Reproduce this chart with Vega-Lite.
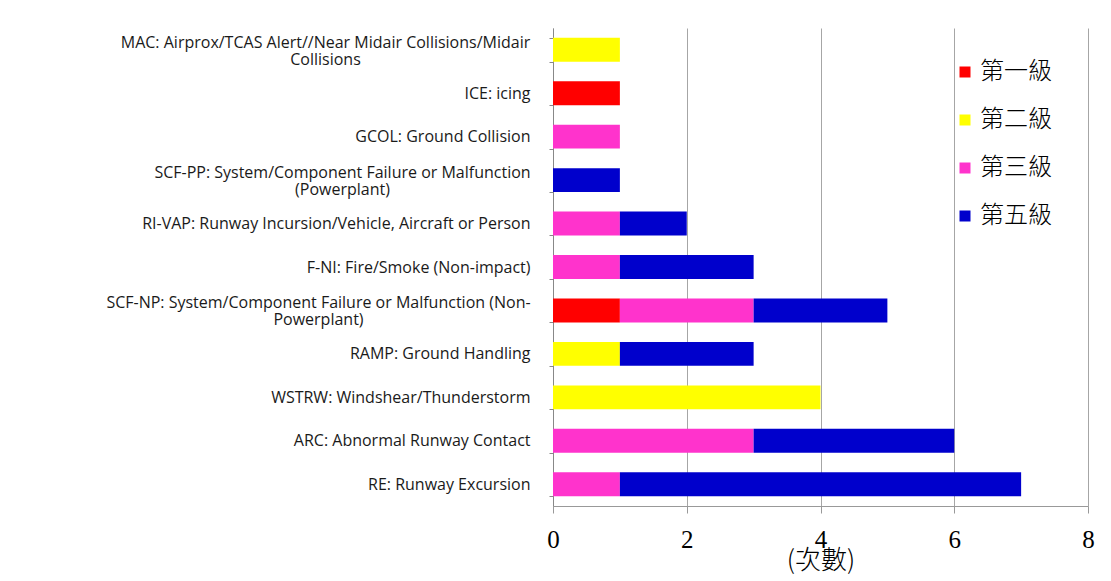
{
  "$schema": "https://vega.github.io/schema/vega-lite/v6.json",
  "autosize": "none",
  "width": 535,
  "height": 478,
  "padding": {"left": 553, "top": 28, "right": 23, "bottom": 75},
  "background": "white",
  "config": {"view": {"stroke": null}},
  "data": {
    "values": [
      {"category": "MAC: Airprox/TCAS Alert//Near Midair Collisions/Midair\nCollisions", "level": "第二級", "rank": 2, "count": 1},
      {"category": "ICE: icing", "level": "第一級", "rank": 1, "count": 1},
      {"category": "GCOL: Ground Collision ", "level": "第三級", "rank": 3, "count": 1},
      {"category": "SCF-PP: System/Component Failure or Malfunction\n(Powerplant)", "level": "第五級", "rank": 5, "count": 1},
      {"category": "RI-VAP: Runway Incursion/Vehicle, Aircraft or Person", "level": "第三級", "rank": 3, "count": 1},
      {"category": "RI-VAP: Runway Incursion/Vehicle, Aircraft or Person", "level": "第五級", "rank": 5, "count": 1},
      {"category": "F-NI: Fire/Smoke (Non-impact)", "level": "第三級", "rank": 3, "count": 1},
      {"category": "F-NI: Fire/Smoke (Non-impact)", "level": "第五級", "rank": 5, "count": 2},
      {"category": "SCF-NP: System/Component Failure or Malfunction (Non-\nPowerplant)", "level": "第一級", "rank": 1, "count": 1},
      {"category": "SCF-NP: System/Component Failure or Malfunction (Non-\nPowerplant)", "level": "第三級", "rank": 3, "count": 2},
      {"category": "SCF-NP: System/Component Failure or Malfunction (Non-\nPowerplant)", "level": "第五級", "rank": 5, "count": 2},
      {"category": "RAMP: Ground Handling", "level": "第二級", "rank": 2, "count": 1},
      {"category": "RAMP: Ground Handling", "level": "第五級", "rank": 5, "count": 2},
      {"category": "WSTRW: Windshear/Thunderstorm", "level": "第二級", "rank": 2, "count": 4},
      {"category": "ARC: Abnormal Runway Contact", "level": "第三級", "rank": 3, "count": 3},
      {"category": "ARC: Abnormal Runway Contact", "level": "第五級", "rank": 5, "count": 3},
      {"category": "RE: Runway Excursion", "level": "第三級", "rank": 3, "count": 1},
      {"category": "RE: Runway Excursion", "level": "第五級", "rank": 5, "count": 6}
    ]
  },
  "resolve": {"axis": {"y": "independent"}},
  "layer": [
    {
      "mark": {"type": "bar"},
      "encoding": {
        "y": {
          "field": "category",
          "type": "nominal",
          "sort": null,
          "scale": {"paddingInner": 0.45, "paddingOuter": 0.225},
          "axis": {
            "orient": "left",
            "title": null,
            "labelExpr": "indexof(datum.label, '\\n') >= 0 ? '' : datum.label",
            "labelFont": "Open Sans",
            "labelFontSize": 16,
            "labelColor": "#1a1a1a",
            "labelLimit": 0,
            "labelPadding": 19,
            "tickBand": "extent",
            "tickSize": 4,
            "tickColor": "#888",
            "domainColor": "#888",
            "grid": false
          }
        },
        "x": {
          "field": "count",
          "type": "quantitative",
          "aggregate": "sum",
          "stack": "zero",
          "scale": {"domain": [0, 8], "nice": false},
          "axis": {
            "title": "(次數)",
            "titleFont": "Noto Sans CJK TC",
            "titleFontSize": 26,
            "titleFontWeight": 300,
            "titleColor": "#000",
            "titlePadding": -5,
            "values": [0, 2, 4, 6, 8],
            "labelFont": "Liberation Serif",
            "labelFontSize": 25,
            "labelColor": "#000",
            "labelPadding": 14,
            "labelFlush": false,
            "tickSize": 7,
            "tickColor": "#999",
            "domainColor": "#999",
            "grid": true,
            "gridColor": "#A6A6A6"
          }
        },
        "color": {
          "field": "level",
          "type": "nominal",
          "scale": {
            "domain": ["第一級", "第二級", "第三級", "第五級"],
            "range": ["#FF0000", "#FFFF00", "#FF33CC", "#0000CC"]
          },
          "legend": {
            "title": null,
            "orient": "none",
            "legendX": 400,
            "legendY": 32,
            "symbolType": "square",
            "symbolSize": 121,
            "symbolStrokeWidth": 0,
            "labelFont": "Noto Sans CJK TC",
            "labelFontSize": 24,
            "labelFontWeight": 300,
            "labelColor": "#000",
            "labelOffset": 3,
            "rowPadding": 24
          }
        },
        "order": {"field": "rank", "type": "quantitative"}
      }
    },
    {
      "mark": {"type": "bar", "opacity": 0},
      "encoding": {
        "y": {
          "field": "category",
          "type": "nominal",
          "sort": null,
          "axis": {
            "orient": "left",
            "title": null,
            "domain": false,
            "ticks": false,
            "tickSize": 0,
            "labelExpr": "indexof(datum.label, 'MAC:') === 0 ? split(datum.label, '\\n') : ''",
            "labelFont": "Open Sans",
            "labelFontSize": 16,
            "labelColor": "#1a1a1a",
            "labelLimit": 0,
            "labelAlign": "center",
            "labelLineHeight": 17,
            "labelOffset": -7,
            "labelPadding": 228,
            "grid": false
          }
        }
      }
    },
    {
      "mark": {"type": "bar", "opacity": 0},
      "encoding": {
        "y": {
          "field": "category",
          "type": "nominal",
          "sort": null,
          "axis": {
            "orient": "left",
            "title": null,
            "domain": false,
            "ticks": false,
            "tickSize": 0,
            "labelExpr": "indexof(datum.label, 'SCF-PP:') === 0 ? split(datum.label, '\\n') : ''",
            "labelFont": "Open Sans",
            "labelFontSize": 16,
            "labelColor": "#1a1a1a",
            "labelLimit": 0,
            "labelAlign": "center",
            "labelLineHeight": 17,
            "labelOffset": -7,
            "labelPadding": 211,
            "grid": false
          }
        }
      }
    },
    {
      "mark": {"type": "bar", "opacity": 0},
      "encoding": {
        "y": {
          "field": "category",
          "type": "nominal",
          "sort": null,
          "axis": {
            "orient": "left",
            "title": null,
            "domain": false,
            "ticks": false,
            "tickSize": 0,
            "labelExpr": "indexof(datum.label, 'SCF-NP:') === 0 ? split(datum.label, '\\n') : ''",
            "labelFont": "Open Sans",
            "labelFontSize": 16,
            "labelColor": "#1a1a1a",
            "labelLimit": 0,
            "labelAlign": "center",
            "labelLineHeight": 17,
            "labelOffset": -7,
            "labelPadding": 235,
            "grid": false
          }
        }
      }
    }
  ]
}
